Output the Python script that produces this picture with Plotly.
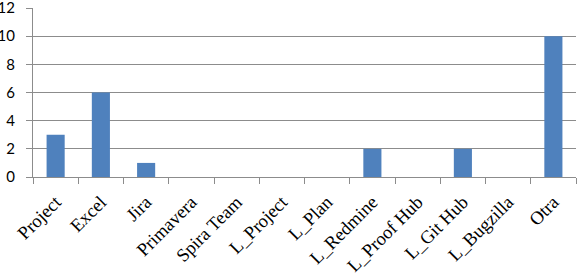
import plotly.graph_objects as go

categories = ["Project", "Excel", "Jira", "Primavera", "Spira Team", "L_Project",
              "L_Plan", "L_Redmine", "L_Proof Hub", "L_Git Hub", "L_Bugzilla", "Otra"]
values = [3, 6, 1, 0, 0, 0, 0, 2, 0, 2, 0, 10]
y_ticks = [0, 2, 4, 6, 8, 10, 12]

grid = "#8c8c8c"

fig = go.Figure(go.Bar(x=categories, y=values, marker_color="#4F81BD",
                       marker_line_width=0))

fig.update_layout(
    width=581, height=274,
    margin=dict(l=33, r=5, t=8, b=97),
    paper_bgcolor="white", plot_bgcolor="white",
    bargap=0.6, showlegend=False,
)
fig.update_xaxes(
    type="category", tickangle=-45, automargin=False,
    showline=True, linecolor=grid, linewidth=1,
    ticks="outside", tickson="boundaries", ticklen=6, tickcolor=grid,
    showgrid=False, ticklabelstandoff=6, ticklabeloverflow="allow",
    tickfont=dict(family="Liberation Serif, Times New Roman, serif", size=18.5, color="black"),
)
fig.update_yaxes(
    range=[0, 12], tickvals=y_ticks, automargin=False,
    showline=True, linecolor=grid, linewidth=1,
    ticks="outside", ticklen=6, tickcolor=grid,
    showgrid=True, gridcolor=grid, gridwidth=1, zeroline=False,
    ticklabelstandoff=8, ticklabeloverflow="allow",
    tickfont=dict(family="Lato, Liberation Sans, sans-serif", size=15, color="black"),
)

fig.write_html("out.html")
